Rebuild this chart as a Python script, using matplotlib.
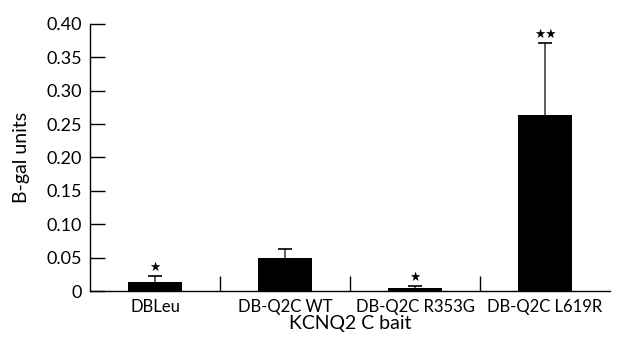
import numpy as np
import matplotlib.pyplot as plt

categories = ['DBLeu', 'DB-Q2C WT', 'DB-Q2C R353G', 'DB-Q2C L619R']
means = [0.013, 0.049, 0.005, 0.263]
errors = [0.010, 0.014, 0.003, 0.109]
stars = ['★', '', '★', '★★']

plt.rcParams['font.family'] = ['Lato', 'DejaVu Sans']

fig = plt.figure(figsize=(6.18, 3.42), dpi=100)
ax = fig.add_axes([0.146, 0.149, 0.841, 0.781])

x = np.arange(len(categories))
means = np.array(means)
errors = np.array(errors)
ax.bar(x, means, width=0.42, color='black', zorder=2)
# upper-only error bars
ax.vlines(x, means, means + errors, color='#444444', linewidth=1.2, zorder=1)
ax.hlines(means + errors, x - 0.055, x + 0.055, color='black', linewidth=1.2, zorder=1)

for xi, m, e, s in zip(x, means, errors, stars):
    if s:
        ax.text(xi, m + e + 0.003, s, ha='center', va='bottom', fontsize=9,
                family=['DejaVu Sans'])

ax.set_xlim(-0.5, len(categories) - 0.5)
ax.set_ylim(0, 0.40)
ax.set_yticks(np.arange(0, 0.41, 0.05))
ax.set_yticklabels(['0'] + ['%.2f' % v for v in np.arange(0.05, 0.41, 0.05)])
ax.tick_params(axis='y', direction='in', length=11, width=1, labelsize=13, pad=6)

ax.set_xticks(x)
ax.set_xticklabels(categories, fontsize=12)
ax.tick_params(axis='x', length=0, pad=6)
# separators between categories
ax.set_xticks(x[:-1] + 0.5, minor=True)
ax.tick_params(axis='x', which='minor', direction='in', length=11, width=1)

ax.set_xlabel('KCNQ2 C bait', fontsize=14, labelpad=0)
ax.set_ylabel('B-gal units', fontsize=14, labelpad=12)

for side in ['top', 'right']:
    ax.spines[side].set_visible(False)
ax.spines['left'].set_linewidth(1)
ax.spines['bottom'].set_linewidth(1)

fig.savefig('out.png', dpi=100)
